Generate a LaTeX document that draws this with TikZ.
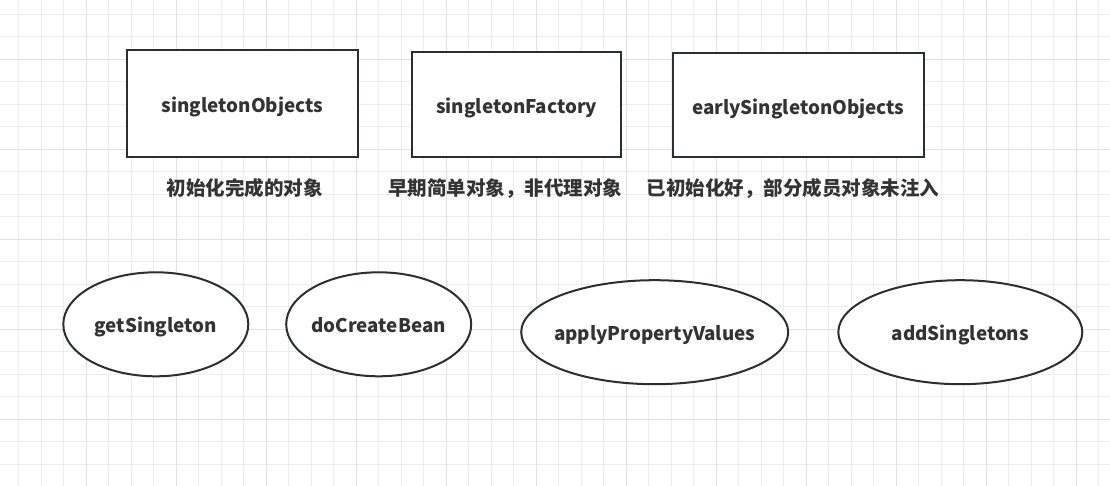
\documentclass[tikz,border=0pt]{standalone}
\usepackage{fontspec}
\setmainfont{Noto Sans CJK SC}
\usetikzlibrary{shapes.geometric}
\definecolor{inkc}{HTML}{2B2F33}
\definecolor{textc}{HTML}{333333}
\definecolor{gridminor}{HTML}{EDEDED}
\definecolor{gridmajor}{HTML}{E2E2E2}

\begin{document}
\begin{tikzpicture}[x=1pt,y=-1pt,
  lbl/.style={font=\fontsize{19.5}{22}\selectfont\bfseries,text=textc},
  idtext/.style={font=\fontsize{18.8}{22}\selectfont\bfseries,text=textc},
  store/.style={idtext,draw=inkc,line width=2pt,fill=white,inner sep=0pt,
                text height=18pt,text depth=0pt},
  oval/.style={idtext,ellipse,draw=inkc,line width=2pt,fill=white,
               inner sep=0pt,minimum height=104,text height=17pt,text depth=0pt},
]
\useasboundingbox (0,0) rectangle (1110,486);
\fill[white] (0,0) rectangle (1110,486);
% ---------- grid ----------
\foreach \gx in {18.5,41,...,1100} \draw[gridminor,line width=1pt] (\gx,0) -- (\gx,486);
\foreach \gy in {14.3,36.8,...,480} \draw[gridminor,line width=1pt] (0,\gy) -- (1110,\gy);
\foreach \gx in {86,176,...,1100} \draw[gridmajor,line width=1pt] (\gx,0) -- (\gx,486);
\foreach \gy in {59.3,149.3,...,480} \draw[gridmajor,line width=1pt] (0,\gy) -- (1110,\gy);

% ---------- TOP: caches ----------
\node[store,minimum width=231,minimum height=107] (so)  at (242.5,103.5) {singletonObjects};
\node[store,minimum width=209,minimum height=105] (sf)  at (516.8,104.7) {singletonFactory};
\node[store,minimum width=251,minimum height=104] (eso) at (798.3,105.3) {earlySingletonObjects};
\node[lbl] (so-note)  at (244.7,188.5) {初始化完成的对象};
\node[lbl] (sf-note)  at (505,188.5)   {早期简单对象，非代理对象};
\node[lbl] (eso-note) at (793,188.5)   {已初始化好，部分成员对象未注入};

% ---------- BOTTOM: methods ----------
\node[oval,minimum width=185] (gs)  at (155.8,324.3) {\makebox[0pt]{getSingleton}};
\node[oval,minimum width=185] (dcb) at (378.7,324.3) {\makebox[0pt]{doCreateBean}};
\node[oval,minimum width=267] (apv) at (654.7,332.2) {\makebox[0pt]{applyPropertyValues}};
\node[oval,minimum width=244] (as)  at (960.3,332.2) {\makebox[0pt]{addSingletons}};
\end{tikzpicture}
\end{document}
